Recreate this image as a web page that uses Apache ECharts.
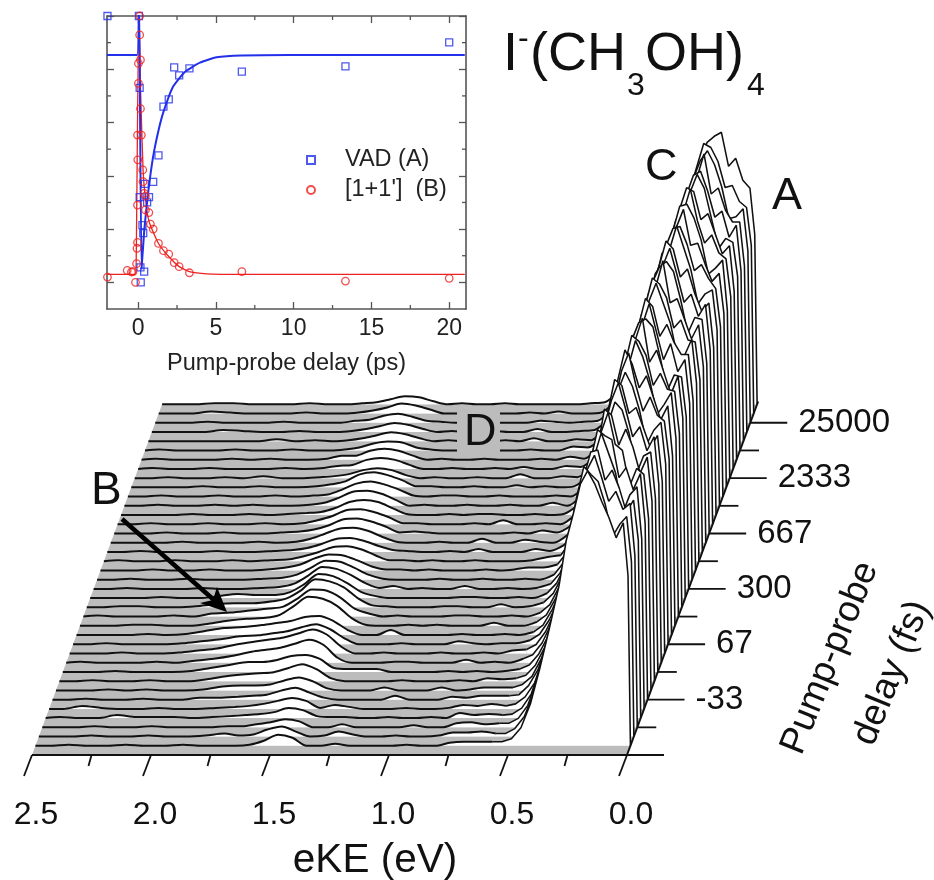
<!DOCTYPE html>
<html><head><meta charset="utf-8">
<style>html,body{margin:0;padding:0;background:#fff}#c{width:934px;height:880px}</style>
<script src="https://cdn.jsdelivr.net/npm/echarts@6/dist/echarts.min.js"></script>
</head><body><div id="c"></div>
<script>
// ---------- inset data ----------
const vadDelay=[-1.97,0.05,0.1,0.1,0.28,0.33,0.15,0.39,0.17,0.43,0.7,0.58,0.97,1.31,1.63,1.97,2.32,2.64,3.3,6.67,13.33,20];
const vadValue=[1,1,0.73,0.32,0.215,0.185,0.056,0.04,0,0.37,0.32,0.3,0.377,0.477,0.66,0.687,0.807,0.777,0.803,0.791,0.811,0.901];
const pairDelay=[-1.97,-0.7,-0.43,-0.33,-0.17,-0.1,-0.07,-0.04,-0.04,-0.02,-0.04,0.02,0.02,0.15,0.1,0.1,0.15,0.21,0.3,0.32,0.39,0.47,0.47,0.69,0.79,0.97,1.31,1.63,1.97,2.32,2.64,3.3,6.67,13.33,20];
const pairValue=[0.02,0.045,0.039,0.04,0,0.07,0.128,0.15,0.29,0.46,0.553,0.747,0.822,0.835,0.929,1,0.652,0.553,0.422,0.378,0.334,0.324,0.272,0.262,0.219,0.2,0.146,0.119,0.106,0.074,0.059,0.036,0.04,0.005,0.015];
const vadFitDelay=[-2,-0.06,0.05,0.22,0.4,0.64,0.96,1.31,1.63,2.25,3,3.97,5.04,6.67,9.7,21];
const vadFitValue=[0.854,0.854,1.12,0.05,0.2,0.334,0.47,0.57,0.64,0.735,0.79,0.825,0.845,0.852,0.854,0.854];
const pairFitDelay=[-2,-0.2,-0.12,0.05,0.15,0.32,0.54,0.75,1.31,1.97,2.64,3.3,4.4,6.67,21];
const pairFitValue=[0.03,0.03,0.1,1.05,0.74,0.42,0.28,0.22,0.146,0.097,0.059,0.04,0.032,0.03,0.03];
const insetXTicks=[0,5,10,15,20], insetXMinor=[2.5,7.5,12.5,17.5];
const insetYTicks=[0,0.2,0.4,0.6,0.8,1], insetYMinor=[0.1,0.3,0.5,0.7,0.9];
// ---------- waterfall data: heights of each spectrum, front (0) to back (37) ----------
const eKELow=[0,.01,.03,.06,.09,.12,.15,.18,.21,.24,.27,.30,.34,.38,.42,.46,.50,.54,.58];
const eKEHigh=[.64,.70,.76,.82,.88,.94,1.0,1.06,1.12,1.18,1.24,1.30,1.36,1.42,1.48,1.54,1.60,1.66,1.72,1.80,1.88,1.96,2.04,2.12,2.20,2.28,2.36,2.44,2.5];
const lowHeights=[
[0,170,223,208,228,244,262,275,262,232,205,160,118,78,42,18,7,4,4],
[0,175,220,212,200,232,255,262,270,240,200,162,122,82,44,20,8,3,3],
[0,172,224,218,236,226,250,272,258,236,208,170,125,84,48,22,9,4,4],
[0,178,218,206,230,248,238,268,266,240,196,172,128,88,52,24,10,4,3],
[0,170,222,214,196,236,256,276,252,228,210,168,126,90,54,26,12,5,3],
[0,176,226,210,232,222,260,264,270,238,204,176,132,92,58,30,14,5,4],
[0,172,216,222,204,240,246,278,258,244,200,170,134,96,60,32,14,6,3],
[0,180,224,208,234,252,236,266,272,230,212,178,136,98,64,34,16,6,3],
[0,174,220,216,198,238,262,270,248,242,206,174,138,100,66,36,18,7,3],
[0,178,226,212,236,226,254,280,262,234,214,182,140,102,68,40,20,8,4],
[0,172,218,206,226,246,240,268,274,240,208,184,142,106,72,42,22,9,4],
[0,180,222,214,200,234,258,272,254,244,216,178,146,108,74,44,24,10,4],
[0,176,214,220,238,224,250,282,264,232,218,186,148,110,78,48,26,10,3],
[0,170,220,206,228,250,238,262,276,246,212,190,150,112,80,50,28,11,4],
[0,178,224,212,202,236,260,276,250,238,220,184,152,116,84,54,30,12,4],
[0,174,216,218,234,222,252,266,272,242,210,192,154,118,86,56,32,14,5],
[0,180,222,204,226,248,236,280,258,236,222,188,158,122,88,58,34,15,5],
[0,172,212,214,198,232,262,270,266,248,214,194,160,124,92,60,36,16,5],
[0,176,220,208,236,220,248,276,254,234,224,190,162,126,94,64,38,17,5],
[0,170,216,216,228,246,234,264,272,244,216,198,164,130,98,66,40,18,6],
[0,178,222,206,204,238,258,278,260,240,226,194,166,132,100,70,42,20,6],
[0,172,210,212,232,224,254,268,274,246,218,200,168,136,102,72,46,22,7],
[0,176,218,204,224,244,240,282,256,238,228,196,170,138,106,76,48,24,8],
[0,170,214,216,200,234,262,272,266,250,220,204,172,140,110,78,50,26,8],
[0,174,220,208,230,222,250,276,258,240,230,200,174,144,112,82,54,28,9],
[0,168,212,204,222,246,238,266,274,248,222,206,176,146,116,86,56,30,10],
[0,176,216,212,202,236,258,280,256,242,232,202,178,148,118,88,60,32,10],
[0,170,208,218,232,226,252,270,268,250,224,208,180,150,120,92,62,34,11],
[0,174,214,206,224,244,242,278,260,240,234,204,178,152,124,94,64,36,12],
[0,168,218,210,204,238,260,274,272,246,226,210,182,154,126,96,68,38,12],
[0,172,210,216,234,226,248,280,256,244,228,206,176,150,122,94,66,38,13],
[0,168,214,206,226,246,240,268,272,250,224,200,172,146,120,92,68,40,14],
[0,174,208,212,202,232,262,276,258,242,230,204,174,148,118,90,66,38,13],
[0,170,216,204,230,224,250,270,266,246,220,196,170,144,120,94,68,42,15],
[0,166,210,210,222,244,238,278,254,238,226,198,168,142,116,90,64,40,14],
[0,172,214,206,204,236,258,272,262,244,218,192,166,140,114,88,66,42,16],
[0,168,206,212,228,226,252,266,270,246,222,194,164,138,114,90,64,38,14],
[0,170,216,224,246,238,272,268,262,242,218,190,165,140,115,90,66,40,15]];
const highHeights=[
[4,4,3,0,0,1,0,0,0,0,2,0,0,8,11,5,1,0,0,0,1,0,0,1,0,0,1,0,0],
[5,4,4,1,0,0,1,0,0,2,5,1,0,5,10,7,2,1,3,1,0,0,1,0,0,1,0,0,0],
[3,5,4,0,0,2,0,0,0,0,3,0,0,6,8,5,3,1,1,0,0,0,1,0,0,1,0,0,0],
[4,3,5,0,1,0,0,1,0,0,1,1,2,8,10,6,4,3,2,1,0,1,1,1,3,0,0,1,0],
[5,3,4,1,0,0,1,0,0,0,2,4,1,8,11,8,5,3,2,1,0,0,1,0,0,1,3,0,0],
[4,4,2,3,0,0,0,4,0,0,0,0,2,7,12,9,5,4,3,2,2,0,0,1,0,0,1,0,0],
[3,3,1,0,3,0,0,0,3,0,0,0,2,9,13,10,6,5,5,4,1,0,0,1,0,1,0,0,0],
[2,3,0,1,0,0,0,1,0,0,0,0,3,12,17,13,9,8,7,5,2,0,0,1,0,0,1,0,0],
[1,0,1,0,1,0,0,0,0,3,3,3,4,13,17,16,12,10,10,7,4,1,0,0,0,1,0,0,0],
[0,1,0,3,0,0,0,1,1,0,0,0,5,18,23,19,15,13,11,7,4,2,0,1,0,0,0,1,0],
[3,0,1,0,0,1,0,0,0,1,0,0,7,19,24,20,16,14,12,9,5,3,1,0,0,1,0,0,0],
[1,1,0,1,3,0,0,0,1,0,0,0,6,15,20,17,13,11,9,8,5,3,1,0,0,0,1,0,0],
[0,1,0,0,1,0,0,0,0,5,0,0,5,14,19,18,14,12,10,8,7,4,1,0,1,0,0,0,0],
[0,0,3,0,0,0,1,0,1,0,0,1,8,20,27,29,20,11,8,7,5,2,0,0,1,1,0,0,0],
[0,1,0,0,1,1,0,0,0,1,0,3,8,19,26,27,18,10,8,6,4,3,0,1,0,0,0,1,0],
[1,0,3,0,0,1,1,0,0,0,1,2,9,20,26,28,17,9,6,4,4,3,1,0,0,1,1,0,0],
[0,1,0,0,1,1,0,0,0,0,0,2,6,15,22,24,14,6,3,3,4,2,0,0,1,0,0,0,0],
[1,0,1,0,0,3,0,0,1,0,3,1,6,14,20,22,13,5,2,1,0,0,1,0,0,0,1,0,0],
[0,1,0,0,1,0,0,1,0,0,0,1,5,12,18,19,12,5,2,1,0,0,0,1,0,0,1,0,0],
[3,3,1,0,1,0,0,0,1,0,1,1,4,10,15,16,12,6,3,1,0,0,1,0,0,1,0,0,0],
[4,1,0,0,0,1,0,0,1,0,1,1,6,12,15,14,9,5,2,1,0,1,0,0,1,0,0,1,0],
[1,3,0,0,0,3,0,1,0,0,1,2,6,11,14,13,8,4,2,1,0,0,1,0,0,0,1,0,0],
[0,1,3,0,0,4,0,0,1,0,0,1,6,12,15,14,9,4,1,0,1,0,0,0,1,0,0,0,0],
[1,3,0,1,0,0,0,0,0,1,2,1,7,12,15,14,8,4,2,1,0,0,1,0,0,1,0,0,0],
[0,1,0,0,4,0,1,0,0,0,1,1,7,12,15,14,8,4,1,0,1,0,0,1,0,0,1,0,0],
[1,0,1,0,0,1,1,0,1,0,0,1,7,13,15,13,7,3,2,1,0,1,0,0,1,0,0,0,0],
[0,3,0,0,1,0,0,1,0,0,1,0,6,12,15,14,8,3,1,0,0,1,0,1,0,0,1,0,0],
[0,1,0,0,0,1,0,0,1,1,0,1,7,12,15,13,7,2,1,0,1,0,0,1,0,0,1,0,0],
[1,0,1,0,2,0,0,1,0,0,1,1,7,12,15,13,6,3,1,0,0,1,0,0,1,0,0,0,0],
[1,2,0,0,4,0,0,1,0,0,1,0,3,8,10,8,4,2,1,0,0,2,0,1,0,0,1,0,0],
[2,3,0,0,2,0,1,0,0,1,0,0,4,9,11,9,4,3,1,0,1,0,0,0,1,0,0,1,0],
[1,3,0,1,0,0,0,1,0,0,1,0,4,9,11,9,4,4,1,0,0,1,0,1,0,0,0,1,0],
[3,4,0,0,1,0,0,0,1,0,0,1,3,8,9,7,3,1,0,0,1,0,0,1,0,0,0,1,0],
[1,2,0,0,3,0,1,0,0,0,1,0,3,7,9,6,3,1,0,1,0,2,0,0,0,0,0,0,0],
[2,1,0,0,3,0,0,1,0,0,1,0,3,7,9,6,3,1,0,0,1,0,0,1,2,0,0,0,0],
[2,1,0,1,2,0,0,0,1,0,0,1,2,6,9,7,3,2,0,0,0,1,0,0,0,1,0,0,0],
[1,0,0,2,0,1,0,0,0,1,0,0,4,8,10,6,3,1,0,0,1,0,0,0,1,2,0,0,0],
[2,1,0,0,0,0,0,1,0,0,1,0,3,7,8,5,2,1,0,0,1,0,0,0,1,1,0,0,0]];
const eKETicks=[2.5,2,1.5,1,0.5,0], eKEMinor=[2.25,1.75,1.25,0.75,0.25];
const delayTickRows=[-1,5,11,17,23,29,35], delayMinorRows=[2,8,14,20,26,32];
const delayTickLabels=['','-33','67','300','667','2333','25000'];

// ---------- oblique projection onto the main grid ----------
const ROW_STEP=9.23, ROW_START=9.2, SHEAR=0.371/238;
const depthOf=i=>ROW_START+ROW_STEP*i;
const proj=(e,d,h)=>[e-d*SHEAR,d+h];
const FONT='"Liberation Sans",Arial,sans-serif';
const INK='#111', GREY='#bcbcbc';
const series=[];
const ax0={xAxisIndex:0,yAxisIndex:0,coordinateSystem:'cartesian2d'};

for(let i=lowHeights.length-1;i>=0;i--){
  const z=10+(lowHeights.length-1-i), d=depthOf(i), dPrev=i===0?0:depthOf(i-1);
  series.push({type:'custom',...ax0,z,silent:true,animation:false,data:[[0,0]],
    renderItem:(p,api)=>({type:'polygon',
      shape:{points:[proj(2.5,d,0),proj(0,d,0),proj(0,dPrev,0),proj(2.5,dPrev,0)].map(q=>api.coord(q))},
      style:{fill:GREY}})});
  const low=eKELow.map((e,k)=>proj(e,d,lowHeights[i][k]));
  const high=[low[low.length-1]].concat(eKEHigh.map((e,k)=>proj(e,d,highHeights[i][k])));
  series.push({type:'line',...ax0,z,silent:true,animation:false,clip:false,showSymbol:false,smooth:0.3,
    data:high,lineStyle:{color:INK,width:2},areaStyle:{color:'#fff',opacity:1,origin:d}});
  series.push({type:'line',...ax0,z,silent:true,animation:false,clip:false,showSymbol:false,smooth:false,
    data:low,lineStyle:{color:INK,width:1.55},areaStyle:{color:'#fff',opacity:1,origin:d}});
}
// axis furniture of the waterfall
series.push({type:'custom',...ax0,z:60,silent:true,animation:false,data:[[0,0]],
  renderItem:(p,api)=>{
    const kids=[];
    const seg=(a,b,w)=>kids.push({type:'line',shape:{x1:a[0],y1:a[1],x2:b[0],y2:b[1]},style:{stroke:INK,lineWidth:w}});
    seg(api.coord([2.5,0]),api.coord([0,0]),2);
    eKETicks.forEach(e=>{const b=api.coord([e,0]);seg(b,[b[0]-8,b[1]+21],1.8);});
    eKEMinor.forEach(e=>{const b=api.coord([e,0]);seg(b,[b[0]-3,b[1]+11],1.8);});
    const top=depthOf(37.3);
    seg(api.coord(proj(0,0,0)),api.coord(proj(0,top,0)),2);
    delayTickRows.forEach((r,k)=>{
      const b=api.coord(proj(0,Math.max(depthOf(r),0),0));seg(b,[b[0]+37,b[1]],1.8);
      if(delayTickLabels[k])kids.push({type:'text',x:b[0]+48,y:b[1],style:{text:delayTickLabels[k],fill:INK,font:'33px '+FONT,textAlign:'left',textVerticalAlign:'middle'}});
    });
    delayMinorRows.forEach(r=>{const b=api.coord(proj(0,depthOf(r),0));seg(b,[b[0]+19,b[1]],1.8);});
    return {type:'group',children:kids};
  }});
// inset
const BLUE='#2230ea', RED='#ee2020';
const ax1={xAxisIndex:1,yAxisIndex:1,coordinateSystem:'cartesian2d'};
series.push({type:'custom',...ax1,z:61,silent:true,animation:false,data:[[0,0]],
  renderItem:(p,api)=>{
    const kids=[];
    const seg=(a,b)=>kids.push({type:'line',shape:{x1:a[0],y1:a[1],x2:b[0],y2:b[1]},style:{stroke:'#555',lineWidth:1.3}});
    insetXMinor.forEach(t=>{const a=api.coord([t,-0.1]),b=api.coord([t,1]);seg(a,[a[0],a[1]-4]);seg(b,[b[0],b[1]+4]);});
    insetYMinor.forEach(v=>{const a=api.coord([-2,v]),b=api.coord([21.08,v]);seg(a,[a[0]+4,a[1]]);seg(b,[b[0]-4,b[1]]);});
    return {type:'group',children:kids};
  }});
series.push({type:'line',...ax1,name:'pair fit',z:62,silent:true,animation:false,showSymbol:false,smooth:0.15,
  data:pairFitDelay.map((t,k)=>[t,pairFitValue[k]]),lineStyle:{color:RED,width:1.3}});
series.push({type:'line',...ax1,name:'VAD fit',z:62,silent:true,animation:false,showSymbol:false,smooth:0.15,
  data:vadFitDelay.map((t,k)=>[t,vadFitValue[k]]),lineStyle:{color:BLUE,width:2}});
series.push({type:'scatter',...ax1,name:'VAD (A)',z:63,silent:true,animation:false,symbol:'rect',symbolSize:7,
  data:vadDelay.map((t,k)=>[t,vadValue[k]]),itemStyle:{color:'rgba(255,255,255,0)',borderColor:BLUE,borderWidth:1.3}});
series.push({type:'scatter',...ax1,name:"[1+1']  (B)",z:63,silent:true,animation:false,symbol:'circle',symbolSize:7.5,
  data:pairDelay.map((t,k)=>[t,pairValue[k]]),itemStyle:{color:'rgba(255,255,255,0)',borderColor:RED,borderWidth:1.3}});

const frame={onZero:false,lineStyle:{color:'#555',width:1.6}};
const insetTick={inside:true,length:7,lineStyle:{color:'#555',width:1.3}};
const txt=(text,x,base,size)=>({type:'text',x,y:base-0.84*size,z:100,style:{text,fill:INK,font:size+'px '+FONT,textAlign:'left',textVerticalAlign:'top'}});
const option={
  backgroundColor:'#fff',animation:false,
  grid:[{left:32,top:0,width:833,height:755,outerBoundsMode:'none'},{left:107,top:16,width:359,height:293,outerBoundsMode:'none'}],
  legend:{show:true,data:['VAD (A)',"[1+1']  (B)"],orient:'vertical',left:301,top:143,itemWidth:8,itemHeight:8,itemGap:6,z:70,selectedMode:false,
    textStyle:{fontFamily:FONT,fontSize:23.5,color:'#222',padding:[0,0,0,25]}},
  xAxis:[
    {type:'value',gridIndex:0,inverse:true,min:-1,max:2.5,interval:0.5,splitLine:{show:false},axisTick:{show:false},
     axisLine:{show:false},
     axisLabel:{margin:44,fontFamily:FONT,fontSize:32,color:INK,padding:[0,0,0,8],formatter:v=>v<0?'':v.toFixed(1),showMinLabel:true,showMaxLabel:true},
     name:'eKE (eV)',nameLocation:'middle',nameGap:85,nameTextStyle:{fontFamily:FONT,fontSize:40.5,color:INK,padding:[0,147,0,0]}},
    {type:'value',gridIndex:1,min:-2,max:21.08,splitLine:{show:false},position:'bottom',axisLine:{show:true,...frame},
     axisTick:{...insetTick,customValues:insetXTicks},
     axisLabel:{customValues:insetXTicks,margin:8,fontFamily:FONT,fontSize:23,color:'#222'},
     name:'Pump-probe delay (ps)',nameLocation:'middle',nameGap:43,nameTextStyle:{fontFamily:FONT,fontSize:23.5,color:'#222'}},
    {type:'value',gridIndex:1,min:-2,max:21.08,splitLine:{show:false},position:'top',axisLine:{show:true,...frame},
     axisTick:{...insetTick,customValues:insetXTicks},axisLabel:{show:false}}
  ],
  yAxis:[
    {type:'value',gridIndex:0,min:0,max:755,show:false},
    {type:'value',gridIndex:1,min:-0.1,max:1,position:'left',splitLine:{show:false},axisLine:{show:true,...frame},
     axisTick:{...insetTick,customValues:insetYTicks},axisLabel:{show:false}},
    {type:'value',gridIndex:1,min:-0.1,max:1,position:'right',splitLine:{show:false},axisLine:{show:true,...frame},
     axisTick:{...insetTick,customValues:insetYTicks},axisLabel:{show:false}}
  ],
  series,
  graphic:{elements:[
    {type:'rect',z:99,shape:{x:457,y:408,width:43,height:46},style:{fill:GREY}},
    txt('D',464,448,45),
    txt('A',772,212,45),
    txt('B',91,507,46),
    txt('C',645,183,45),
    txt('I',503,73,54),
    txt('-',518,50,32),
    txt('(CH',530,73,54),
    txt('3',627,97,32),
    txt('OH)',645,73,54),
    txt('4',747,97,32),
    {type:'text',x:830,y:658,z:100,rotation:68*Math.PI/180,style:{text:'Pump-probe',fill:INK,font:'37px '+FONT,textAlign:'center',textVerticalAlign:'middle'}},
    {type:'text',x:892,y:673,z:100,rotation:68*Math.PI/180,style:{text:'delay (fs)',fill:INK,font:'37px '+FONT,textAlign:'center',textVerticalAlign:'middle'}},
    {type:'line',z:100,shape:{x1:122,y1:519,x2:214,y2:600},style:{stroke:'#000',lineWidth:4.5}},
    {type:'polygon',z:100,shape:{points:[[227,612],[217,587],[213,600],[200,603]]},style:{fill:'#000'}}
  ]}
};
const chart=echarts.init(document.getElementById('c'),null,{renderer:'canvas',width:934,height:880});
chart.setOption(option);
</script></body></html>
